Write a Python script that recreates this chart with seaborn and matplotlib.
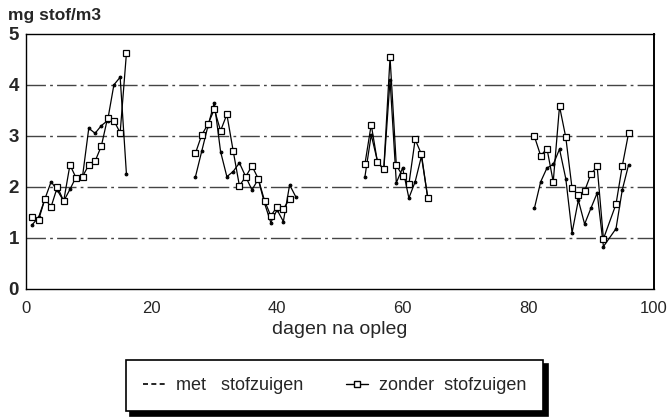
import numpy as np
import pandas as pd
import matplotlib.pyplot as plt
import seaborn as sns
from matplotlib.lines import Line2D

# days per measuring period
days_1 = list(range(1, 17))
days_2 = list(range(27, 43))
days_2_met = list(range(27, 44))
days_3 = list(range(54, 65))
days_4 = list(range(81, 93)) + [94, 95, 96]

# mg stof/m3, met stofzuigen
met_1 = [1.26, 1.40, 1.76, 2.10, 1.93, 1.72, 1.95, 2.20, 2.20, 3.15, 3.05, 3.20, 3.30, 4.00, 4.15, 2.25]
met_2 = [2.20, 2.70, 3.20, 3.65, 2.69, 2.20, 2.30, 2.47, 2.20, 1.94, 2.15, 1.68, 1.30, 1.55, 1.32, 2.04, 1.80]
met_3 = [2.20, 3.02, 2.50, 2.33, 4.10, 2.08, 2.37, 1.78, 2.10, 2.60, 1.80]
met_4 = [1.58, 2.10, 2.37, 2.44, 2.74, 2.16, 1.10, 1.74, 1.27, 1.58, 1.88, 0.83, 1.18, 1.94, 2.43]

# mg stof/m3, zonder stofzuigen
zonder_1 = [1.40, 1.35, 1.76, 1.61, 2.00, 1.72, 2.43, 2.17, 2.20, 2.43, 2.50, 2.80, 3.35, 3.30, 3.06, 4.62]
zonder_2 = [2.66, 3.02, 3.23, 3.52, 3.10, 3.42, 2.71, 2.02, 2.20, 2.41, 2.16, 1.73, 1.43, 1.61, 1.57, 1.76]
zonder_3 = [2.45, 3.22, 2.48, 2.35, 4.54, 2.42, 2.22, 2.05, 2.93, 2.64, 1.78]
zonder_4 = [2.99, 2.61, 2.75, 2.10, 3.58, 2.97, 1.97, 1.84, 1.92, 2.25, 2.40, 0.98, 1.66, 2.41, 3.05]

rows = []
for seg, (d, v) in enumerate([(days_1, met_1), (days_2_met, met_2), (days_3, met_3), (days_4, met_4)]):
    rows += [("met", seg, x, y) for x, y in zip(d, v)]
for seg, (d, v) in enumerate([(days_1, zonder_1), (days_2, zonder_2), (days_3, zonder_3), (days_4, zonder_4)]):
    rows += [("zonder", seg, x, y) for x, y in zip(d, v)]
df = pd.DataFrame(rows, columns=["serie", "periode", "dag", "stof"])

sns.set_style("white")
plt.rcParams['font.family'] = ['Liberation Sans', 'DejaVu Sans']

fig = plt.figure(figsize=(6.67, 4.18), dpi=100)
ax = fig.add_axes([0.039, 0.309, 0.941, 0.610])

for seg in range(4):
    part = df[(df.serie == "met") & (df.periode == seg)]
    sns.lineplot(data=part, x="dag", y="stof", ax=ax, color="black", lw=0.9,
                 marker="o", markersize=2.0, markeredgecolor="black",
                 estimator=None, legend=False)
    part = df[(df.serie == "zonder") & (df.periode == seg)]
    sns.lineplot(data=part, x="dag", y="stof", ax=ax, color="black", lw=0.9,
                 marker="s", markersize=5, markerfacecolor="white",
                 markeredgecolor="black", markeredgewidth=0.9, estimator=None, legend=False)

ax.set_xlim(0, 100)
ax.set_ylim(0, 5)
ax.set_xticks([0, 20, 40, 60, 80, 100])
ax.set_xticklabels(["0", "20", "40", "60", "80", "100"], fontsize=12)
ax.set_yticks([0, 1, 2, 3, 4, 5])
ax.set_yticklabels(["0", "1", "2", "3", "4", "5"], fontsize=13.5, fontweight="bold")
ax.tick_params(axis="x", direction="in", length=4, width=0.8, pad=9)
ax.tick_params(axis="y", length=0, pad=5)
for y in [1, 2, 3, 4]:
    ax.axhline(y, color="#444444", lw=1.0, ls=(0, (14, 3, 2, 3)), zorder=0)
for s in ax.spines.values():
    s.set_color("black")
    s.set_linewidth(1.0)
ax.spines["right"].set_linewidth(1.4)

ax.set_xlabel("dagen na opleg", fontsize=14, labelpad=3)
ax.set_ylabel("")
fig.text(0.012, 0.945, "mg stof/m3", fontsize=12.5, fontweight="bold", ha="left", va="bottom")

handles = [Line2D([], [], color="black", ls=(0, (3, 2)), lw=1.2),
           Line2D([], [], color="black", lw=1.0, marker="s", markersize=4.5,
                  markerfacecolor="white", markeredgecolor="black")]
leg = fig.legend(handles, ["met   stofzuigen", "zonder  stofzuigen"], loc="center",
                 bbox_to_anchor=(0.502, 0.077), ncol=2, fontsize=13, frameon=True,
                 fancybox=False, edgecolor="black", handlelength=1.2, handletextpad=0.6,
                 columnspacing=2.4, borderpad=0.95, borderaxespad=0,
                 shadow={"color": "black", "alpha": 1.0, "ox": 3, "oy": -3})
leg.get_frame().set_linewidth(1.2)

fig.savefig("out.png", dpi=100)
